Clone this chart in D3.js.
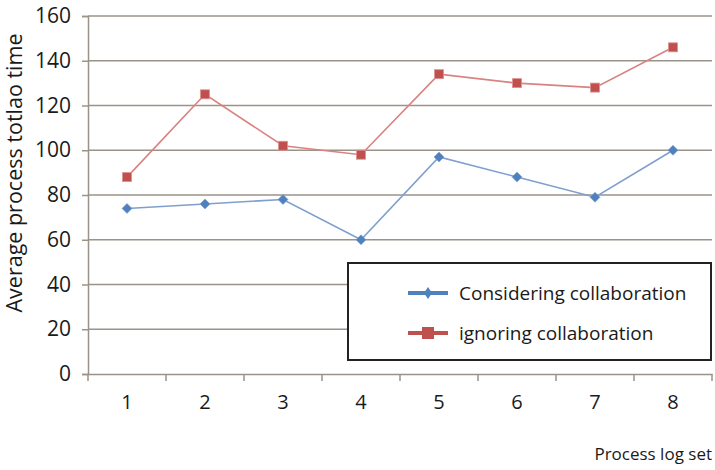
<!DOCTYPE html>
<html><head><meta charset="utf-8">
<script src="https://cdn.jsdelivr.net/npm/d3@7"></script>
<style>body{margin:0;background:#fff}svg{display:block}text{font-family:"Open Sans",sans-serif;fill:#1a1a1a}</style>
</head><body><svg id="c" width="715" height="470"></svg>
<script>
const categories = ["1","2","3","4","5","6","7","8"];
const considering = [74, 76, 78, 60, 97, 88, 79, 100];
const ignoring = [88, 125, 102, 98, 134, 130, 128, 146];
const yTicks = [0,20,40,60,80,100,120,140,160];
const seriesNames = ["Considering collaboration", "ignoring collaboration"];
const yTitle = "Average process totlao time";
const xTitle = "Process log set";

const svg = d3.select("#c");
const L = 88, R = 712, T = 16, B = 374;
const x = d3.scaleBand().domain(categories).range([L, R]);
const y = d3.scaleLinear().domain([0,160]).range([B, T]);
const gridC = "#9a9389";

svg.append("g").selectAll("line").data(yTicks.filter(d=>d>0)).join("line")
  .attr("x1", L).attr("x2", R).attr("y1", d=>y(d)).attr("y2", d=>y(d))
  .attr("stroke", gridC).attr("stroke-width", 1.5);

const ya = svg.append("g").attr("transform", `translate(${L},0)`)
  .call(d3.axisLeft(y).tickValues(yTicks).tickSize(6).tickPadding(11));
ya.select(".domain").attr("stroke", gridC).attr("stroke-width", 1.5);
ya.selectAll(".tick line").attr("stroke", gridC).attr("stroke-width", 1.5);
ya.selectAll(".tick text").style("font-size", "21px").attr("fill", "#1a1a1a");

const xa = svg.append("g").attr("transform", `translate(0,${B})`)
  .call(d3.axisBottom(x).tickSize(0).tickPadding(21));
xa.select(".domain").attr("stroke", gridC).attr("stroke-width", 1.5);
xa.selectAll(".tick text").style("font-size", "20px").attr("fill", "#1a1a1a");
const bounds = categories.map(c => x(c)).concat([R]);
svg.append("g").selectAll("line").data(bounds).join("line")
  .attr("x1", d=>d).attr("x2", d=>d).attr("y1", B).attr("y2", B+7)
  .attr("stroke", gridC).attr("stroke-width", 1.5);

svg.append("text").attr("transform", "translate(22,173) rotate(-90)")
  .attr("text-anchor", "middle").style("font-size", "21.5px").text(yTitle);
svg.append("text").attr("x", 712).attr("y", 460).attr("text-anchor", "end")
  .style("font-size", "17px").text(xTitle);

const cx = c => x(c) + x.bandwidth()/2;
const line = d3.line().x((d,i)=>cx(categories[i])).y(d=>y(d));
const blue = "#4f81bd", red = "#c0504d";

svg.append("path").datum(considering).attr("d", line).attr("fill","none")
  .attr("stroke", "#7f9fcf").attr("stroke-width", 1.6);
svg.append("path").datum(ignoring).attr("d", line).attr("fill","none")
  .attr("stroke", "#d98280").attr("stroke-width", 1.6);

const diamond = "M0,-5L5,0L0,5L-5,0Z";
svg.append("g").selectAll("path").data(considering).join("path")
  .attr("d", diamond)
  .attr("transform", (d,i)=>`translate(${cx(categories[i])},${y(d)})`)
  .attr("fill", blue).attr("stroke", "#7f9fcf").attr("stroke-width", 0.6);
svg.append("g").selectAll("rect").data(ignoring).join("rect")
  .attr("x", (d,i)=>cx(categories[i])-4.5).attr("y", d=>y(d)-4.5)
  .attr("width", 9).attr("height", 9).attr("fill", red)
  .attr("stroke", "#dd9290").attr("stroke-width", 0.8);

const lg = svg.append("g");
lg.append("rect").attr("x", 348).attr("y", 263).attr("width", 363).attr("height", 97)
  .attr("fill", "#fff").attr("stroke", "#222").attr("stroke-width", 2);
const lgY = [293, 333];
const cols = [blue, red];
seriesNames.forEach((n,i)=>{
  lg.append("line").attr("x1", 408).attr("x2", 448).attr("y1", lgY[i]).attr("y2", lgY[i])
    .attr("stroke", cols[i]).attr("stroke-width", 4);
  if (i===0) lg.append("path").attr("d", "M0,-6L4,0L0,6L-4,0Z")
    .attr("transform", `translate(428,${lgY[i]})`).attr("fill", cols[i]);
  else lg.append("rect").attr("x", 422).attr("y", lgY[i]-6).attr("width", 12).attr("height", 12).attr("fill", cols[i]);
  lg.append("text").attr("x", 459).attr("y", lgY[i]+7).style("font-size", "19px").text(n);
});
</script></body></html>
